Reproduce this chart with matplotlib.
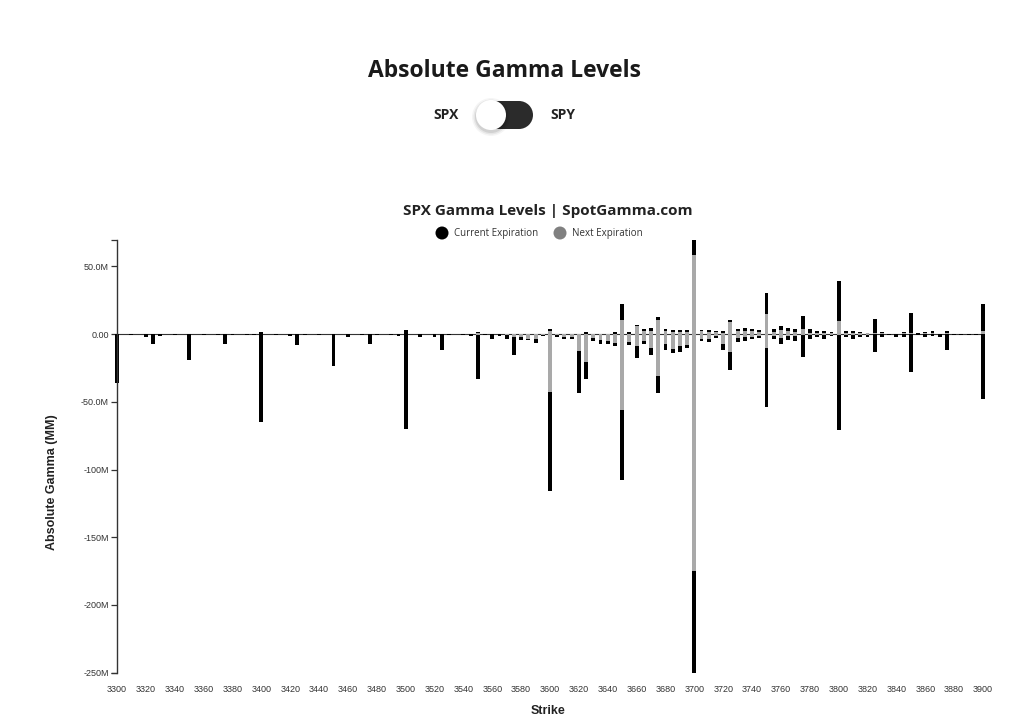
import matplotlib
matplotlib.use("Agg")
import numpy as np
from matplotlib import pyplot as plt
from matplotlib.patches import Circle, Rectangle

# values in millions, "next" is stacked first (near zero), "current" on top of it
strikes = [3300, 3310, 3320, 3325, 3330, 3340, 3350, 3360, 3370, 3375, 3380, 3390, 3395,
           3400, 3410, 3420, 3425, 3430, 3440, 3450, 3460, 3470, 3475, 3480, 3490, 3495,
           3500, 3510, 3520, 3525, 3530, 3540, 3545, 3550, 3555, 3560, 3565, 3570, 3575,
           3580, 3585, 3590, 3595, 3600, 3605, 3610, 3615, 3620, 3625, 3630, 3635, 3640,
           3645, 3650, 3655, 3660, 3665, 3670, 3675, 3680, 3685, 3690, 3695, 3700, 3705,
           3710, 3715, 3720, 3725, 3730, 3735, 3740, 3745, 3750, 3755, 3760, 3765, 3770,
           3775, 3780, 3785, 3790, 3795, 3800, 3805, 3810, 3815, 3820, 3825, 3830, 3835,
           3840, 3845, 3850, 3855, 3860, 3865, 3870, 3875, 3880, 3885, 3890, 3895, 3900]

next_pos = [0, 0, 0, 0, 0, 0, 0, 0, 0, 0, 0, 0, 0,
            0, 0, 0, 0, 0, 0, 0, 0, 0, 0, 0, 0, 0,
            0, 0, 0, 0, 0, 0, 0, 1, 0, 0, 0, 0, 0,
            0, 0, 0, 0, 2, 0, 0, 0, 0, 0, 0, 0, 0,
            0, 10.3, 0, 6, 2, 2, 10, 2, 1.5, 1.5, 1.5, 58, 2,
            1.5, 1.5, 1, 9, 2, 2.5, 2, 1.5, 14.5, 1.5, 3, 2, 1.5,
            4, 1, 1, 1, 0.5, 9.6, 0.5, 0.5, 0.5, 0.5, 1, 0.5, 0,
            0, 0.5, 1, 0, 0.5, 0.5, 0, 0.5, 0, 0, 0, 0, 2]

cur_pos = [0, 0, 0, 0, 0, 0, 0, 0, 0, 0, 0, 0, 0,
           1.5, 0, 0, 0, 0, 0, 0, 0, 0, 0, 0, 0, 0,
           3, 0, 0, 0, 0, 0, 0, 0.5, 0, 0, 0, 0, 0,
           0, 0, 0, 0, 2, 0, 0, 0, 0, 1.5, 0, 0, 0,
           1.5, 11.7, 1.5, 1, 2, 2.5, 2.5, 2, 1.5, 1.5, 1.5, 11.5, 1,
           1.5, 1, 1.5, 1.5, 1.5, 2, 1.5, 1.5, 16, 2.5, 3, 2.5, 2,
           9.3, 2.5, 1.5, 1.5, 0.8, 29.4, 2, 1.5, 1, 0.5, 10, 1, 0,
           0, 1, 14.5, 0.8, 1, 2, 0, 1.5, 0, 0, 0, 0, 20]

next_neg = [0, 0, 0, 0, 0, 0, 0, 0, 0, 0, 0, 0, 0,
            0, 0, 0, 0, 0, 0, 0, 0, 0, 0, 0, 0, 0,
            0, 0, 0, 0, 0, 0, 0, -0.5, 0, 0, 0, -1, -2,
            -2, -3.5, -3.5, -1, -43, -1, -2, -2, -12.5, -20.5, -3, -4.5, -5,
            -6.5, -56, -6, -9, -5.5, -10, -31, -7.5, -11, -9, -8, -175, -3.5,
            -3.5, -1.5, -7, -13, -3, -2.5, -2.5, -1.5, -10, -1.5, -3, -1.5, -1.5,
            -1, -1, -1, -1, -0.5, -1, -0.5, -0.5, -0.5, -0.5, 0, 0, 0,
            0, 0, 0, 0, 0, 0, 0, 0, 0, 0, 0, 0, 0]

cur_neg = [-36, -0.8, -2.5, -7.5, -1.5, -1, -19.5, -1, -0.8, -7.5, -0.8, -1, -0.8,
           -65, -0.8, -1.5, -8, -0.6, -0.6, -23.5, -2.5, -1, -7.5, -0.8, -1, -1.5,
           -70, -2.5, -2.5, -11.5, -1, -1, -1.2, -33, -0.8, -3.7, -1.5, -2.7, -13.5,
           -2.5, -0.8, -3, -0.8, -73, -1.5, -2, -2, -31, -12.5, -2.5, -3, -2.5,
           -2, -52, -2, -9, -2, -5.5, -12.5, -4, -3, -4, -2.5, -75, -2,
           -2.5, -1.5, -4.5, -13.5, -3, -3, -1.5, -1.5, -44, -2.5, -4.5, -3, -3.5,
           -15.7, -2.5, -1.5, -2.5, -1, -70, -2, -3, -1.5, -1.5, -13, -2.5, -1,
           -2.5, -2, -28, -0.8, -2.5, -1.5, -2, -11.5, -1, -1, -0.8, -1, -48]

x_ticks = list(range(3300, 3901, 20))
y_ticks = [-250, -200, -150, -100, -50, 0, 50]
y_ticklabels = ["-250M", "-200M", "-150M", "-100M", "-50.0M", "0.00", "50.0M"]

BLACK = "#000000"
GREY = "#a9a9a9"
LEG_GREY = "#808080"
W, H = 1024, 728

fig = plt.figure(figsize=(W / 100, H / 100), dpi=100)

# page decorations drawn in pixel coordinates
deco = fig.add_axes([0, 0, 1, 1])
deco.set_xlim(0, W)
deco.set_ylim(H, 0)
deco.axis("off")

deco.text(504, 71, "Absolute Gamma Levels", ha="center", va="center",
          fontsize=16.5, fontweight="bold", family="Open Sans", color="#1a1a1a")
deco.text(446, 115, "SPX", ha="center", va="center", fontsize=10,
          fontweight="bold", family="Open Sans", color="#222222")
deco.text(563, 115, "SPY", ha="center", va="center", fontsize=10,
          fontweight="bold", family="Open Sans", color="#222222")

# toggle switch
deco.add_patch(Rectangle((491, 101), 28, 28, fc="#2b2b2b", ec="none"))
deco.add_patch(Circle((491, 115), 14, fc="#2b2b2b", ec="none"))
deco.add_patch(Circle((519, 115), 14, fc="#2b2b2b", ec="none"))
for r, a in [(19, 0.04), (17.5, 0.06), (16, 0.09)]:
    deco.add_patch(Circle((491, 117), r, fc="#000000", ec="none", alpha=a))
deco.add_patch(Circle((491, 115), 15, fc="white", ec="none"))

deco.text(548, 211, "SPX Gamma Levels | SpotGamma.com", ha="center", va="center",
          fontsize=11, fontweight="bold", family="Open Sans", color="#222222")
deco.add_patch(Circle((442, 233), 6.5, fc=BLACK, ec="none"))
deco.text(454, 233.5, "Current Expiration", ha="left", va="center",
          fontsize=7, family="Open Sans", color="#333333")
deco.add_patch(Circle((560, 233), 6.5, fc=LEG_GREY, ec="none"))
deco.text(572, 233.5, "Next Expiration", ha="left", va="center",
          fontsize=7, family="Open Sans", color="#333333")

deco.text(52, 482, "Absolute Gamma (MM)", rotation=90, ha="center", va="center",
          fontsize=9, fontweight="bold", family="Liberation Sans", color="#222222")
deco.text(548, 711, "Strike", ha="center", va="center",
          fontsize=9, fontweight="bold", family="Liberation Sans", color="#222222")

# the chart itself
ax = fig.add_axes([117 / W, 1 - 673 / H, (983 - 117) / W, (673 - 240) / H])
ax.patch.set_alpha(0)
ax.set_xlim(3300, 3900)
ax.set_ylim(-250.2, 69.4)

bw = 2.7
next_pos = np.array(next_pos)
next_neg = np.array(next_neg)
ax.bar(strikes, next_pos, width=bw, color=GREY, clip_on=False, zorder=2)
ax.bar(strikes, cur_pos, width=bw, bottom=next_pos, color=BLACK, clip_on=False, zorder=2)
ax.bar(strikes, next_neg, width=bw, color=GREY, clip_on=False, zorder=2)
ax.bar(strikes, cur_neg, width=bw, bottom=next_neg, color=BLACK, clip_on=False, zorder=2)
ax.axhline(0, color="#333333", lw=0.8, zorder=1)

for s in ["top", "right", "bottom"]:
    ax.spines[s].set_visible(False)
ax.spines["left"].set_color("#333333")
ax.spines["left"].set_linewidth(1.0)

ax.set_yticks(y_ticks)
ax.set_yticklabels(y_ticklabels)
ax.set_yticks([69.4, -250.2], minor=True)
ax.tick_params(axis="y", which="both", length=4, width=0.9, color="#333333",
               pad=2, labelsize=6.5, labelcolor="#333333")
ax.set_xticks(x_ticks)
ax.set_xticklabels([str(t) for t in x_ticks])
ax.tick_params(axis="x", length=0, pad=9, labelsize=6.5, labelcolor="#333333")
for lab in ax.get_xticklabels() + ax.get_yticklabels():
    lab.set_family("Liberation Sans")

fig.savefig("out.png", dpi=100)
